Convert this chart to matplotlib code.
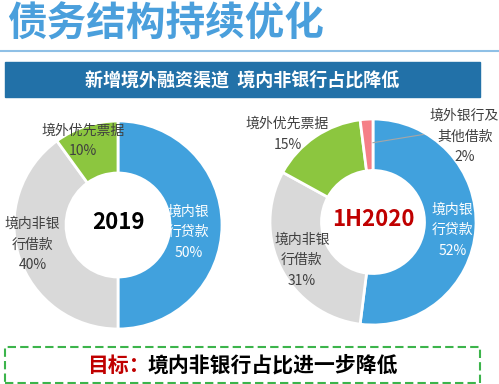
import matplotlib.pyplot as plt
from matplotlib.patches import Rectangle

plt.rcParams['font.family'] = ['Noto Sans CJK SC', 'DejaVu Sans']

W, H = 499, 384

# data
labels_2019 = ['境内银\n行贷款', '境内非银\n行借款', '境外优先票据']
values_2019 = [50, 40, 10]
labels_2020 = ['境内银\n行贷款', '境内非银\n行借款', '境外优先票据', '境外银行及\n其他借款']
values_2020 = [52, 31, 15, 2]
colors_2019 = ['#41a1dd', '#d9d9d9', '#8cc63f']
colors_2020 = ['#41a1dd', '#d9d9d9', '#8cc63f', '#f57f87']

title = '债务结构持续优化'
banner = '新增境外融资渠道  境内非银行占比降低'
goal_head = '目标：'
goal_text = '境内非银行占比进一步降低'

fig = plt.figure(figsize=(W / 100, H / 100), dpi=100)


def fx(x):
    return x / W


def fy(y):
    return 1 - y / H


# title + line
fig.text(fx(7), fy(24), title, fontsize=28.5, fontweight='bold', color='#4a9fdc',
         ha='left', va='center')
fig.add_artist(plt.Line2D([0, 1], [fy(51), fy(51)], color='#8fc0e6', lw=1.5))

# banner
fig.add_artist(Rectangle((fx(5), fy(97)), fx(475), 35 / H, color='#2271a8',
                         transform=fig.transFigure))
fig.text(fx(242), fy(80), banner, fontsize=13, fontweight='bold', color='white',
         ha='center', va='center')


def donut(cx, cy, r, values, colors, labels, label_pos, label_colors, center, center_color):
    ax = fig.add_axes([fx(cx - r), fy(cy + r), 2 * r / W, 2 * r / H])
    ax.pie(values, colors=colors, startangle=90, counterclock=False, radius=1,
           wedgeprops=dict(width=0.5, edgecolor='white', linewidth=2))
    ax.set_xlim(-1, 1)
    ax.set_ylim(-1, 1)
    ax.set_aspect('equal')
    ax.axis('off')
    for lab, v, (px, py), c in zip(labels, values, label_pos, label_colors):
        ax.text(px, py, f'{lab}\n{v}%', ha='center', va='center', fontsize=10,
                color=c, linespacing=1.6, clip_on=False)
    ax.text(0, 0.02, center, ha='center', va='center', fontsize=16,
            fontweight='bold', color=center_color)
    return ax


donut(118, 225, 104, values_2019, colors_2019, labels_2019,
      [(0.68, -0.07), (-0.82, -0.19), (-0.34, 0.81)],
      ['white', '#404040', '#404040'], '2019', 'black')

ax2 = donut(373, 222, 103, values_2020, colors_2020, labels_2020,
            [(0.77, -0.08), (-0.69, -0.37), (-0.83, 0.85), (0.89, 0.83)],
            ['white', '#404040', '#404040', '#404040'], '1H2020', '#c00000')
ax2.plot([0.0, 0.49], [0.77, 0.85], color='#a6a6a6', lw=0.8)

# bottom goal box
fig.add_artist(Rectangle((fx(5), fy(383)), fx(475), 36 / H, fill=False,
                         edgecolor='#3cb44b', lw=1.5, ls=(0, (4, 2)),
                         transform=fig.transFigure))
fig.text(fx(87), fy(365), goal_head, fontsize=15, fontweight='bold',
         color='#c00000', ha='left', va='center')
fig.text(fx(148), fy(365), goal_text, fontsize=15, fontweight='bold',
         color='black', ha='left', va='center')

fig.savefig('out.png', dpi=100, facecolor='white')
